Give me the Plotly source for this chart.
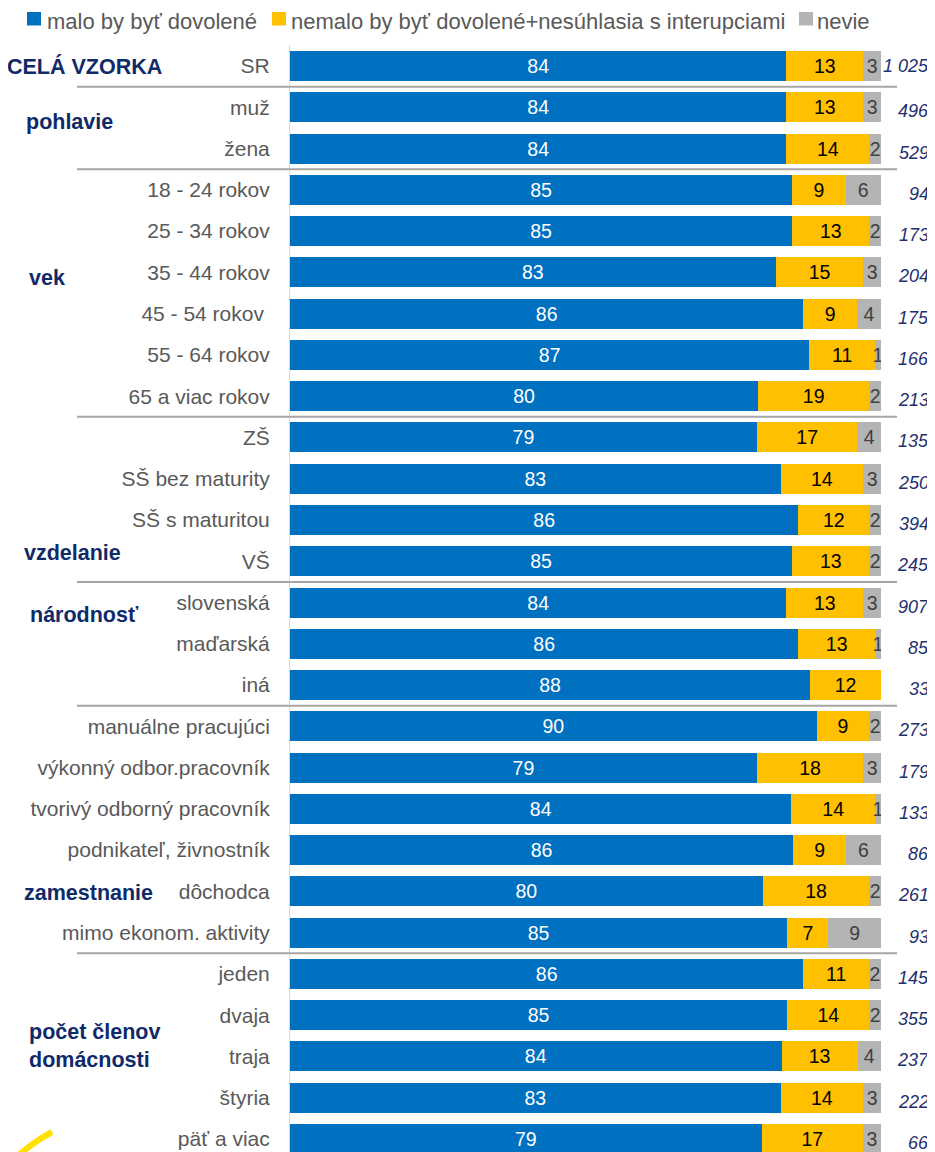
import plotly.graph_objects as go

categories = ["SR", "muž", "žena", "18 - 24 rokov", "25 - 34 rokov", "35 - 44 rokov",
              "45 - 54 rokov ", "55 - 64 rokov", "65 a viac rokov", "ZŠ", "SŠ bez maturity",
              "SŠ s maturitou", "VŠ", "slovenská", "maďarská", "iná", "manuálne pracujúci",
              "výkonný odbor.pracovník", "tvorivý odborný pracovník", "podnikateľ, živnostník",
              "dôchodca", "mimo ekonom. aktivity", "jeden", "dvaja", "traja", "štyria", "päť a viac"]
allowed =     [84, 84, 84, 85, 85, 83, 86, 87, 80, 79, 83, 86, 85, 84, 86, 88, 90, 79, 84, 86, 80, 85, 86, 85, 84, 83, 79]
not_allowed = [13, 13, 14, 9, 13, 15, 9, 11, 19, 17, 14, 12, 13, 13, 13, 12, 9, 18, 14, 9, 18, 7, 11, 14, 13, 14, 17]
dont_know =   [3, 3, 2, 6, 2, 3, 4, 1, 2, 4, 3, 2, 2, 3, 1, 0, 2, 3, 1, 6, 2, 9, 2, 2, 4, 3, 3]
sample_n = ["1 025", "496", "529", "94", "173", "204", "175", "166", "213", "135", "250", "394",
            "245", "907", "85", "33", "273", "179", "133", "86", "261", "93", "145", "355", "237",
            "222", "66"]
series_names = ["malo by byť dovolené", "nemalo by byť dovolené+nesúhlasia s interupciami", "nevie"]
series_colors = ["#0070C0", "#FFC000", "#B4B4B4"]
series_text_colors = ["#FFFFFF", "#000000", "#404040"]

groups = ["CELÁ VZORKA", "pohlavie", "vek", "vzdelanie", "národnosť", "zamestnanie",
          "počet členov<br>domácnosti"]
group_rows = [0, 1.36, 5.14, 11.8, 13.3, 20.04, 23.75]
group_x_px = [5, 24, 27, 22, 28, 22, 27]
separator_after = [0, 2, 8, 12, 15, 21]

# legend layout (page pixel positions of swatches / texts)
legend_swatch_x = [27, 272, 799]
legend_text_x = [46, 290, 816]

REG = "Liberation Sans, Arial, sans-serif"

OFF = 8                      # page body margin of the browser
W, H = 935 - OFF, 1152 - OFF
PLOT_X0, PLOT_X1 = 290, 881  # page pixels
PLOT_Y0 = 45
L = PLOT_X0 - OFF
R = W - (PLOT_X1 - OFF)
T = PLOT_Y0 - OFF
B = 0
PW, PH = W - L - R, H - T - B
ROW_PX = 41.27
rows = list(range(len(categories)))
r_top = -(66 - PLOT_Y0) / ROW_PX
r_bot = r_top + PH / ROW_PX


def px_to_paper_x(px):
    return (px - OFF - L) / PW


def px_to_paper_y(py):
    return (H - B - (py - OFF)) / PH


fig = go.Figure()
for vals, name, col, tcol in zip([allowed, not_allowed, dont_know], series_names,
                                 series_colors, series_text_colors):
    fig.add_trace(go.Bar(
        y=rows, x=vals, orientation="h", name=name,
        marker=dict(color=col, line=dict(width=0)),
        text=[str(v) if v else "" for v in vals],
        textposition="inside", insidetextanchor="middle", constraintext="none",
        textangle=0,
        textfont=dict(family=REG, size=19.5, color=tcol),
        hoverinfo="skip", showlegend=False,
    ))

annotations = []
shapes = []

# legend (drawn manually to match the compact spacing of the original)
for name, col, sx, tx in zip(series_names, series_colors, legend_swatch_x, legend_text_x):
    shapes.append(dict(
        type="rect", xref="paper", yref="paper",
        x0=px_to_paper_x(sx), x1=px_to_paper_x(sx + 14),
        y0=px_to_paper_y(25.5), y1=px_to_paper_y(12),
        fillcolor=col, line=dict(width=0),
    ))
    annotations.append(dict(
        x=px_to_paper_x(tx), xref="paper", y=px_to_paper_y(OFF), yref="paper",
        text=name, xanchor="left", yanchor="top", showarrow=False, borderpad=0,
        font=dict(family=REG, size=22, color="#595959"),
    ))

for i, n in enumerate(sample_n):
    annotations.append(dict(
        x=px_to_paper_x(931), xref="paper", y=rows[i], yref="y", text=n,
        xanchor="right", yanchor="middle", showarrow=False, yshift=0 if i == 0 else -4,
        font=dict(family=REG, size=18, color="#1F3070", style="italic"),
    ))
for g, r, xp in zip(groups, group_rows, group_x_px):
    annotations.append(dict(
        x=px_to_paper_x(xp), xref="paper", y=r, yref="y", text="<b>" + g + "</b>",
        xanchor="left", yanchor="middle", align="left", showarrow=False,
        font=dict(family=REG, size=21.5, color="#0F2A69"),
    ))

for s in separator_after:
    shapes.append(dict(
        type="line", xref="paper", yref="y",
        x0=px_to_paper_x(77), x1=px_to_paper_x(897), y0=s + 0.5, y1=s + 0.5,
        line=dict(color="#A6A6A6", width=2),
    ))
# fragment of the logo swoosh in the bottom-left corner
shapes.append(dict(
    type="path", xref="paper", yref="paper",
    path="M {} {} Q {} {} {} {}".format(
        px_to_paper_x(20), px_to_paper_y(1154),
        px_to_paper_x(35), px_to_paper_y(1141),
        px_to_paper_x(52), px_to_paper_y(1132)),
    line=dict(color="#FFE100", width=6),
))

fig.update_layout(
    width=W, height=H,
    margin=dict(l=L, r=R, t=T, b=B, pad=0, autoexpand=False),
    barmode="stack", barnorm="percent", bargap=0.273,
    plot_bgcolor="white", paper_bgcolor="white",
    xaxis=dict(range=[0, 100], visible=False, fixedrange=True, automargin=False),
    yaxis=dict(
        range=[r_bot, r_top], tickmode="array", tickvals=rows, ticktext=categories,
        showgrid=False, zeroline=False, showline=True, linecolor="#D9D9D9", linewidth=1,
        ticks="", ticklabelstandoff=15, automargin=False,
        tickfont=dict(family=REG, size=21, color="#595959"),
    ),
    annotations=annotations, shapes=shapes,
    showlegend=False,
)

fig.write_html("out.html")
